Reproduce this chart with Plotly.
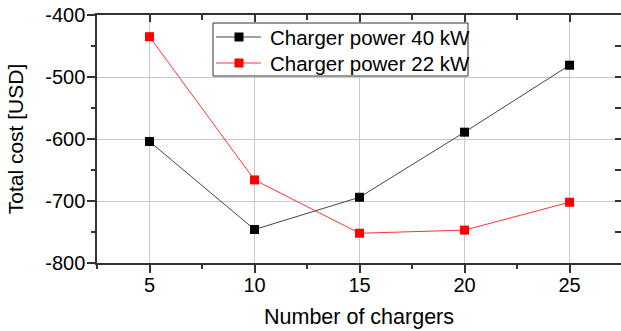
import plotly.graph_objects as go

chargers = [5, 10, 15, 20, 25]
cost_40kw = [-604, -746, -694, -589, -481]
cost_22kw = [-435, -666, -752, -747, -702]
series_names = ["Charger power 40 kW", "Charger power 22 kW"]
y_ticks = [-800, -700, -600, -500, -400]
y_ticklabels = [str(v) for v in y_ticks]

FONT = "Liberation Sans, Arial, sans-serif"
AX = "#333333"
COL_40 = "black"
COL_22 = "#ff0000"
LINE_40 = "#444444"
LINE_22 = "#ff3333"

W, H = 621, 331
L, T, B = 97, 15, 68
PW, PH = 524, H - T - B

fig = go.Figure()
fig.add_trace(go.Scatter(x=chargers, y=cost_40kw, mode="lines+markers", name=series_names[0],
                         line=dict(color=LINE_40, width=1),
                         marker=dict(symbol="square", size=9, color=COL_40), showlegend=False))
fig.add_trace(go.Scatter(x=chargers, y=cost_22kw, mode="lines+markers", name=series_names[1],
                         line=dict(color=LINE_22, width=1),
                         marker=dict(symbol="square", size=9, color=COL_22), showlegend=False))

xr = [2.5, 27.45]
yr = [-800, -400]

def px(x):
    return (x - L) / PW

def py(y):
    return (T + PH - y) / PH

# manual legend (box, line samples, markers, text) in paper coordinates
shapes = [dict(type="rect", xref="paper", yref="paper", x0=px(213), x1=px(468), y0=py(23), y1=py(76),
               line=dict(color="#333333", width=1), fillcolor="white", layer="above")]
annotations = []
rows = [(37, LINE_40, COL_40, series_names[0]), (63, LINE_22, COL_22, series_names[1])]
for yc, lc, mc, name in rows:
    shapes.append(dict(type="line", xref="paper", yref="paper", x0=px(216), x1=px(261),
                       y0=py(yc), y1=py(yc), line=dict(color=lc, width=1), layer="above"))
    shapes.append(dict(type="rect", xref="paper", yref="paper", x0=px(234.5), x1=px(243.5),
                       y0=py(yc - 4.5), y1=py(yc + 4.5), line=dict(width=0), fillcolor=mc, layer="above"))
    annotations.append(dict(xref="paper", yref="paper", x=px(268), y=py(yc), xanchor="left", yanchor="middle",
                            text=name, showarrow=False, font=dict(size=20.5, family=FONT, color="black")))

fig.update_layout(
    width=W, height=H,
    margin=dict(l=L, r=0, t=T, b=B),
    paper_bgcolor="white", plot_bgcolor="white",
    font=dict(family=FONT, size=20, color="black"),
    showlegend=False,
    shapes=shapes, annotations=annotations,
    xaxis=dict(range=xr, tick0=5, dtick=5, ticks="outside", ticklen=8, tickwidth=1.5,
               tickcolor=AX, showline=True, linecolor=AX, linewidth=1.5,
               showgrid=True, gridcolor="#c8c8c8", gridwidth=1, zeroline=False,
               minor=dict(tick0=2.5, dtick=5, ticks="outside", ticklen=4, tickcolor=AX, showgrid=False),
               title=dict(text="Number of chargers", standoff=14, font=dict(size=21.5)),
               tickfont=dict(size=20), ticklabelstandoff=-5),
    yaxis=dict(range=yr, tickvals=y_ticks, ticktext=y_ticklabels, ticks="outside", ticklen=8, tickwidth=1.5,
               tickcolor=AX, showline=True, linecolor=AX, linewidth=1.5,
               showgrid=True, gridcolor="#c8c8c8", gridwidth=1, zeroline=False,
               minor=dict(dtick=50, ticks="outside", ticklen=4, tickcolor=AX, showgrid=False),
               title=dict(text="Total cost [USD]", standoff=16, font=dict(size=21)),
               tickfont=dict(size=20), ticklabelstandoff=-2),
    xaxis2=dict(range=xr, overlaying="x", side="top", tick0=5, dtick=5, ticks="inside",
                ticklen=7, tickwidth=1.5, tickcolor=AX, showline=True, linecolor=AX, linewidth=1.5,
                showticklabels=False, showgrid=False, zeroline=False,
                minor=dict(tick0=2.5, dtick=5, ticks="inside", ticklen=5, tickcolor=AX)),
    yaxis2=dict(range=yr, overlaying="y", side="right", dtick=100, ticks="inside",
                ticklen=6, tickwidth=1.5, tickcolor=AX, showline=True, linecolor=AX, linewidth=1.5,
                showticklabels=False, showgrid=False, zeroline=False,
                minor=dict(dtick=50, ticks="inside", ticklen=6, tickcolor=AX)),
)
# invisible trace to activate the mirrored top/right axes
fig.add_trace(go.Scatter(x=[chargers[0]], y=[cost_40kw[0]], xaxis="x2", yaxis="y2",
                         mode="markers", marker=dict(opacity=0), showlegend=False, hoverinfo="skip"))

fig.write_html("out.html")
